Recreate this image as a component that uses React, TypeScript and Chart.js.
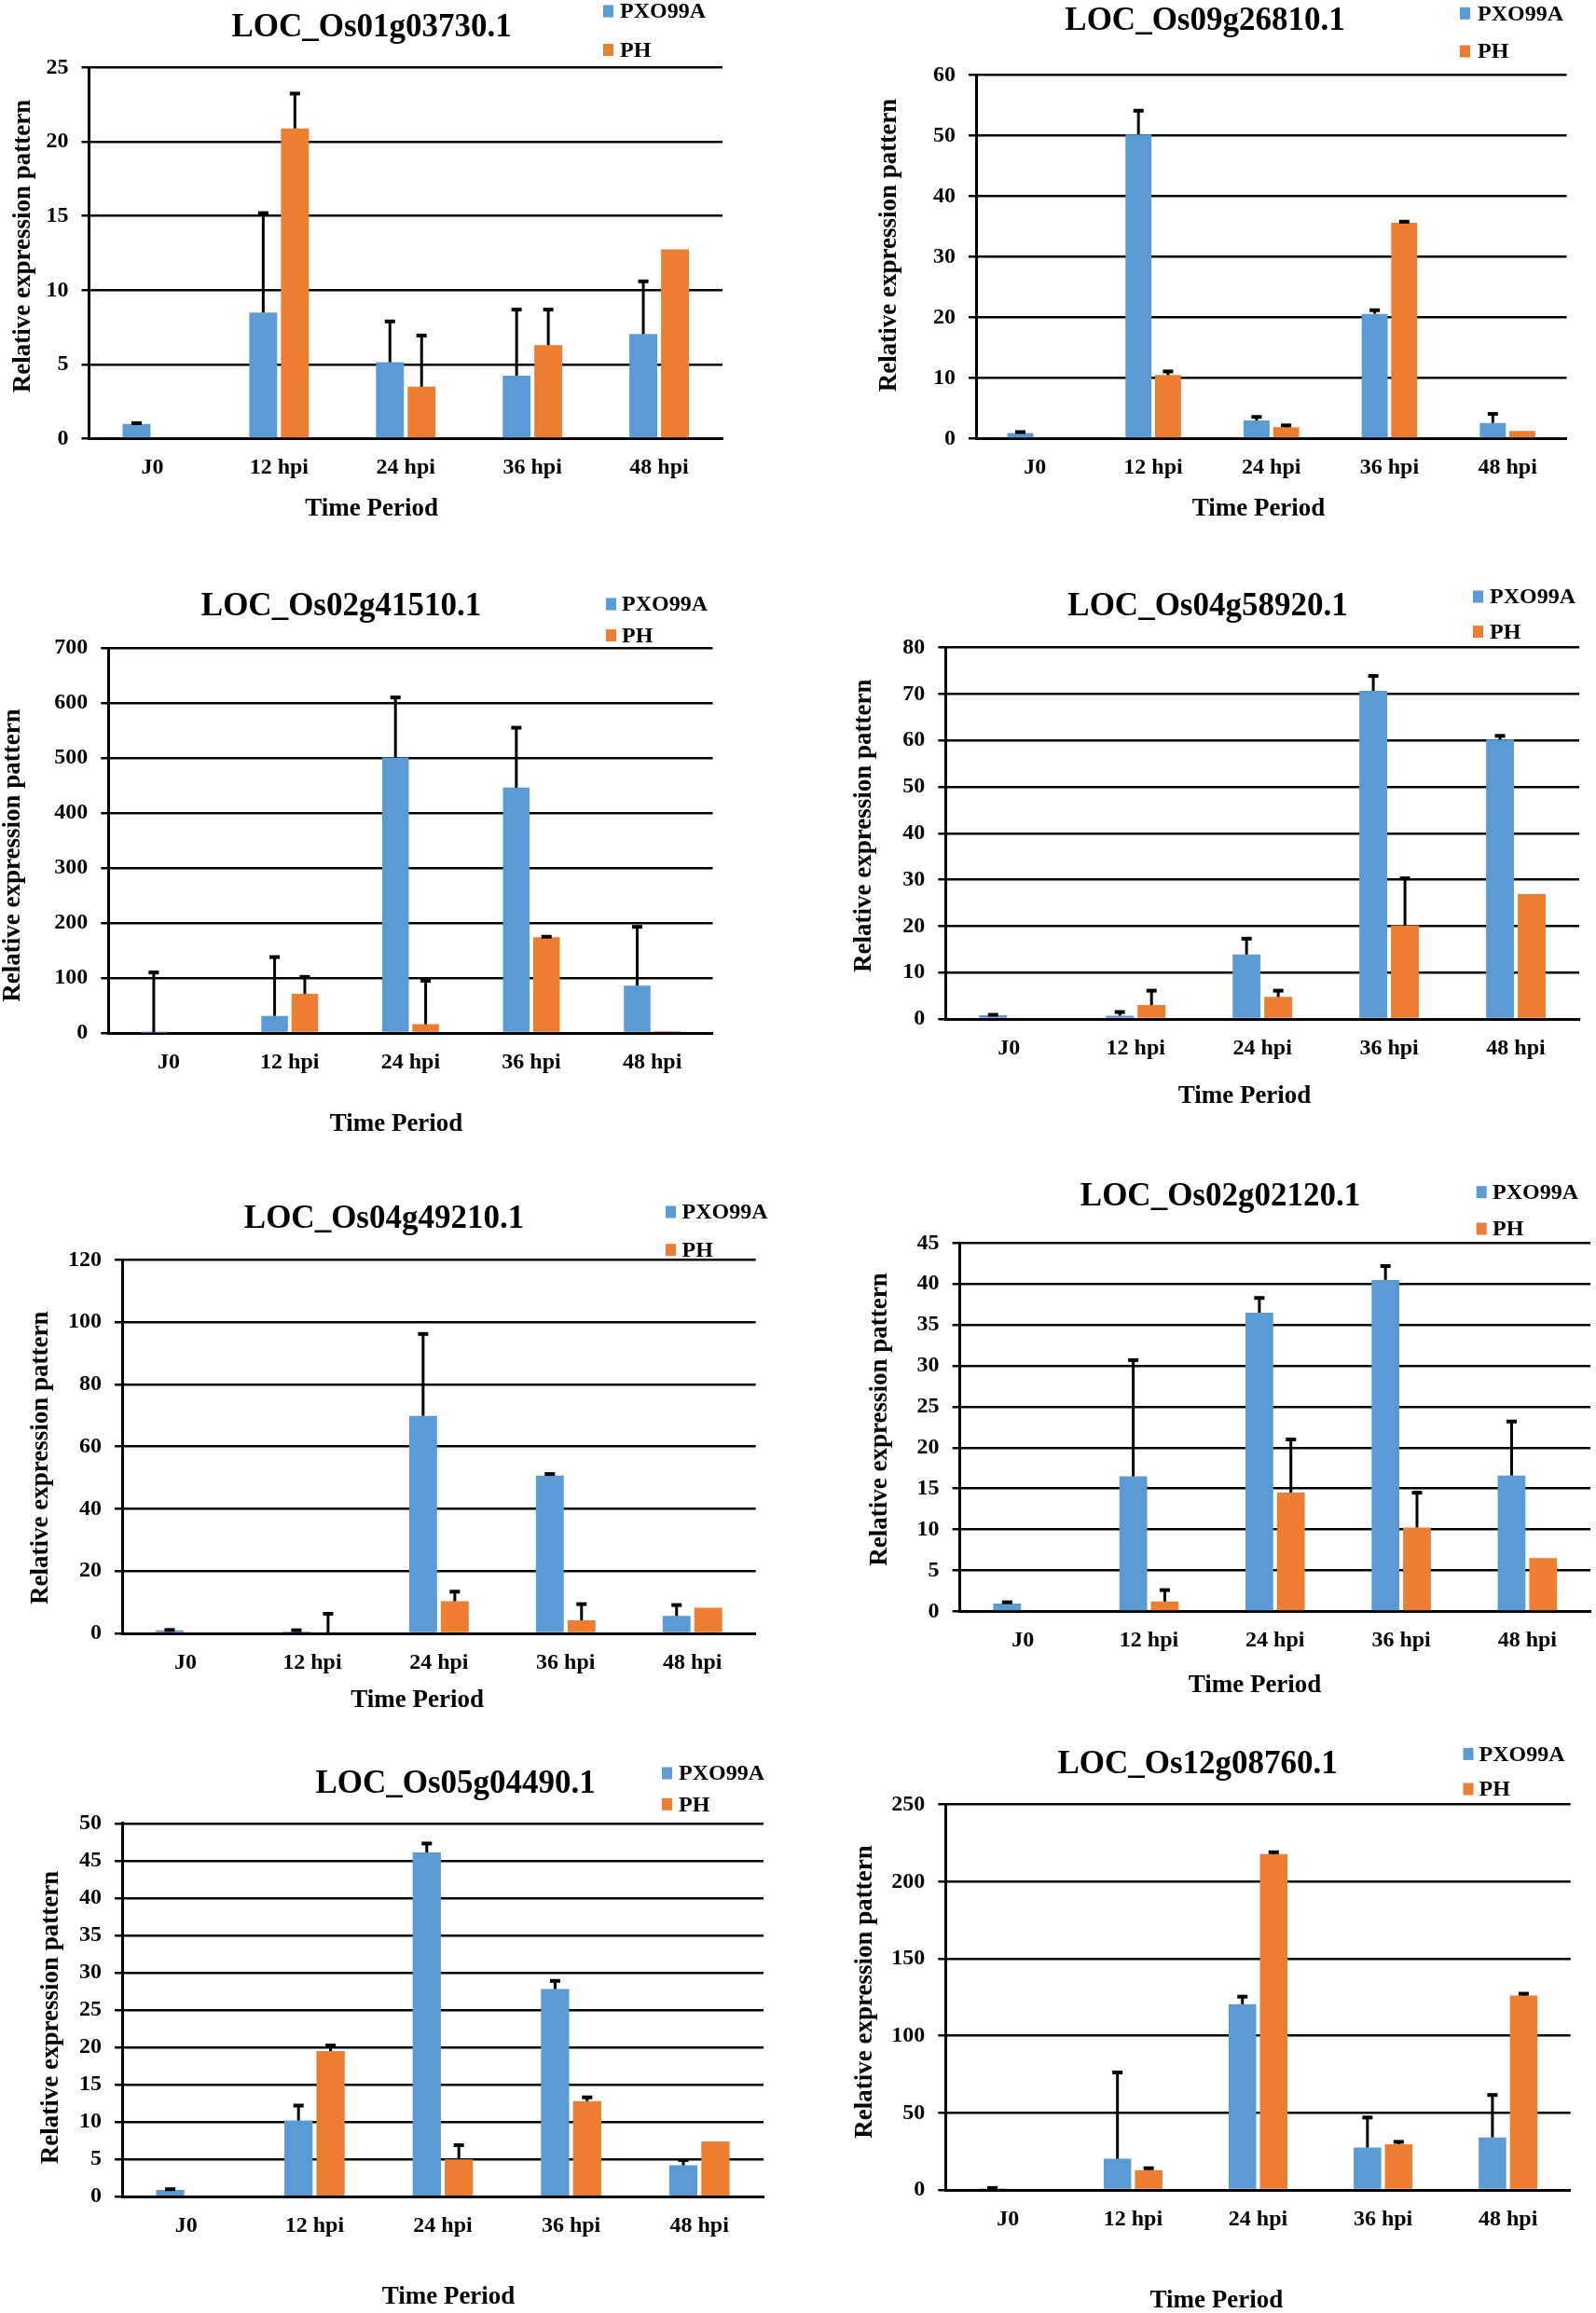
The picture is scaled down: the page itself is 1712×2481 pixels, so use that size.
import React, { useEffect, useRef } from "react";
import { Chart, registerables } from "chart.js";

Chart.register(...registerables);

// ---------------- DATA ----------------
const categories = ["J0", "12 hpi", "24 hpi", "36 hpi", "48 hpi"];
const seriesNames = ["PXO99A", "PH"];
const titles = [
  "LOC_Os01g03730.1",
  "LOC_Os09g26810.1",
  "LOC_Os02g41510.1",
  "LOC_Os04g58920.1",
  "LOC_Os04g49210.1",
  "LOC_Os02g02120.1",
  "LOC_Os05g04490.1",
  "LOC_Os12g08760.1",
];
const yAxisTitle = "Relative expression pattern";
const xAxisTitle = "Time Period";
const yMaxes = [25, 60, 700, 80, 120, 45, 50, 250];
const ySteps = [5, 10, 100, 10, 20, 5, 5, 50];

// panel 1 LOC_Os01g03730.1
const p1Pxo = [1.0, 8.5, 5.15, 4.25, 7.05];
const p1PxoErr = [0.05, 6.7, 2.75, 4.45, 3.55];
const p1Ph = [0, 20.9, 3.5, 6.3, 12.75];
const p1PhErr = [0, 2.35, 3.45, 2.4, 0];
// panel 2 LOC_Os09g26810.1
const p2Pxo = [0.95, 50.2, 3.0, 20.6, 2.6];
const p2PxoErr = [0.15, 3.9, 0.6, 0.6, 1.5];
const p2Ph = [0, 10.5, 1.9, 35.6, 1.3];
const p2PhErr = [0, 0.6, 0.3, 0.2, 0];
// panel 3 LOC_Os02g41510.1
const p3Pxo = [1, 31, 501, 446, 86];
const p3PxoErr = [109, 107, 109, 109, 107];
const p3Ph = [0, 71, 16, 174, 3.5];
const p3PhErr = [0, 31, 79, 1, 0];
// panel 4 LOC_Os04g58920.1
const p4Pxo = [0.8, 0.7, 13.9, 70.7, 60.2];
const p4PxoErr = [0.1, 0.8, 3.4, 3.2, 0.8];
const p4Ph = [0, 3.0, 4.75, 20.2, 26.9];
const p4PhErr = [0, 3.1, 1.35, 10.1, 0];
// panel 5 LOC_Os04g49210.1
const p5Pxo = [1.0, 0.6, 69.9, 50.7, 5.6];
const p5PxoErr = [0.1, 0.4, 26.3, 0.5, 3.5];
const p5Ph = [0, 0, 10.3, 4.2, 8.25];
const p5PhErr = [0, 6.3, 3.1, 5.2, 0];
// panel 6 LOC_Os02g02120.1
const p6Pxo = [0.96, 16.5, 36.5, 40.5, 16.6];
const p6PxoErr = [0.15, 14.2, 1.8, 1.7, 6.6];
const p6Ph = [0, 1.2, 14.5, 10.25, 6.5];
const p6PhErr = [0, 1.4, 6.5, 4.25, 0];
// panel 7 LOC_Os05g04490.1
const p7Pxo = [0.9, 10.2, 46.1, 27.8, 4.2];
const p7PxoErr = [0.1, 2.0, 1.2, 1.1, 0.7];
const p7Ph = [0, 19.5, 5.0, 12.8, 7.4];
const p7PhErr = [0, 0.75, 1.9, 0.5, 0];
// panel 8 LOC_Os12g08760.1
const p8Pxo = [1.0, 20.2, 120.5, 27.5, 34.1];
const p8PxoErr = [0.3, 56, 4.9, 19.5, 27.5];
const p8Ph = [0, 12.9, 217.9, 29.7, 126.1];
const p8PhErr = [0, 1.2, 1.2, 1.5, 1.2];

const pxoValues = [p1Pxo, p2Pxo, p3Pxo, p4Pxo, p5Pxo, p6Pxo, p7Pxo, p8Pxo];
const pxoErrors = [p1PxoErr, p2PxoErr, p3PxoErr, p4PxoErr, p5PxoErr, p6PxoErr, p7PxoErr, p8PxoErr];
const phValues = [p1Ph, p2Ph, p3Ph, p4Ph, p5Ph, p6Ph, p7Ph, p8Ph];
const phErrors = [p1PhErr, p2PhErr, p3PhErr, p4PhErr, p5PhErr, p6PhErr, p7PhErr, p8PhErr];

// ---------------- LAYOUT (page pixels) ----------------
// panel box: x, y, w, h
const panelBoxes = [
  [0, 0, 856, 600],
  [856, 0, 856, 600],
  [0, 600, 856, 650],
  [856, 600, 856, 650],
  [0, 1250, 856, 600],
  [856, 1250, 856, 600],
  [0, 1850, 856, 631],
  [856, 1850, 856, 631],
];
// plot area: left, right, top, bottom
const plotAreas = [
  [95.5, 775, 72.5, 470.6],
  [1047, 1680.5, 80.4, 470.6],
  [116.3, 764.5, 695, 1108],
  [1014.3, 1694, 694.7, 1093],
  [131, 810.7, 1351.4, 1752],
  [1029.6, 1706, 1333.4, 1728.4],
  [131, 819, 1955.8, 2356.2],
  [1014.3, 1684.7, 1935.7, 2349],
];
const titlePositions = [
  [398.6, 30], [1292.5, 23], [366, 651], [1295.5, 651],
  [412, 1307.5], [1309, 1284.4], [488.6, 1913.5], [1284.6, 1892.5],
];
// legend: square x, text x, row1 y, row2 y
const legendPositions = [
  [647, 665, 12, 53.5],
  [1566, 1585, 14.3, 55],
  [650, 667, 648, 681.6],
  [1580, 1598, 640, 677.6],
  [714, 731.6, 1300, 1340.7],
  [1583.7, 1601, 1278.7, 1318],
  [710, 728, 1902, 1935.3],
  [1569.5, 1586.5, 1881.4, 1919],
];
const yTitlePositions = [
  [24.6, 264], [954, 263], [13.6, 917.5], [927, 885.7],
  [43.7, 1563.8], [944.5, 1522.5], [54.6, 2163.9], [928, 2136.5],
];
const xTitlePositions = [
  [398.6, 546], [1350, 546], [425, 1206], [1335, 1176],
  [447.7, 1824], [1346, 1807.6], [481, 2463.6], [1304.8, 2467.7],
];

const FONT = "'Liberation Serif', 'Times New Roman', serif";
const BLUE = "#5B9BD5";
const ORANGE = "#ED7D31";

function makeOverlay(idx: number) {
  const [bx, by] = panelBoxes[idx];
  return {
    id: "overlay" + idx,
    afterDatasetsDraw(chart: any) {
      const ctx = chart.ctx;
      const ys = chart.scales.y;
      const sets = [
        [pxoValues[idx], pxoErrors[idx]],
        [phValues[idx], phErrors[idx]],
      ];
      sets.forEach(([vals, errs], di) => {
        const meta = chart.getDatasetMeta(di);
        meta.data.forEach((bar: any, i: number) => {
          const e = errs[i];
          if (!e) return;
          const x = bar.x;
          const y0 = ys.getPixelForValue(vals[i]);
          const y1 = ys.getPixelForValue(vals[i] + e);
          ctx.save();
          ctx.strokeStyle = "#000";
          ctx.lineWidth = 3;
          ctx.beginPath();
          ctx.moveTo(x, y0);
          ctx.lineTo(x, y1);
          ctx.stroke();
          ctx.lineWidth = 4;
          ctx.beginPath();
          ctx.moveTo(x - 5.5, y1);
          ctx.lineTo(x + 5.5, y1);
          ctx.stroke();
          ctx.restore();
        });
      });
    },
    afterDraw(chart: any) {
      const ctx = chart.ctx;
      ctx.save();
      ctx.fillStyle = "#000";
      // title
      ctx.font = `bold 35px ${FONT}`;
      ctx.textAlign = "center";
      ctx.textBaseline = "middle";
      const [tx, ty] = titlePositions[idx];
      ctx.fillText(titles[idx], tx - bx, ty - by);
      // x title
      ctx.font = `bold 27px ${FONT}`;
      const [xx, xy] = xTitlePositions[idx];
      ctx.fillText(xAxisTitle, xx - bx, xy - by);
      // y title
      const [yx, yy] = yTitlePositions[idx];
      ctx.save();
      ctx.translate(yx - bx, yy - by);
      ctx.rotate(-Math.PI / 2);
      ctx.fillText(yAxisTitle, 0, 0);
      ctx.restore();
      // legend
      const [sx, lx, r1, r2] = legendPositions[idx];
      const colors = [BLUE, ORANGE];
      [r1, r2].forEach((ry, k) => {
        ctx.fillStyle = colors[k];
        ctx.fillRect(sx - bx, ry - by - 6.5, 11, 13);
        ctx.fillStyle = "#000";
        ctx.font = `bold 24px ${FONT}`;
        ctx.textAlign = "left";
        ctx.fillText(seriesNames[k], lx - bx, ry - by + 1);
      });
      ctx.restore();
    },
  };
}

function Panel({ idx }: { idx: number }) {
  const ref = useRef<HTMLCanvasElement>(null);
  const [bx, by, bw, bh] = panelBoxes[idx];
  useEffect(() => {
    const [al, ar, at, ab] = plotAreas[idx];
    const Y_W = 60;
    const X_H = 50;
    const tickFont = { family: FONT, size: 24, weight: "bold" as const };
    const chart = new Chart(ref.current as HTMLCanvasElement, {
      type: "bar",
      data: {
        labels: categories,
        datasets: [
          {
            label: seriesNames[0],
            data: pxoValues[idx],
            backgroundColor: BLUE,
            categoryPercentage: 0.5,
            barPercentage: 0.88,
          },
          {
            label: seriesNames[1],
            data: phValues[idx],
            backgroundColor: ORANGE,
            categoryPercentage: 0.5,
            barPercentage: 0.88,
          },
        ],
      },
      options: {
        responsive: false,
        animation: false,
        devicePixelRatio: 1,
        layout: {
          padding: {
            left: al - bx - Y_W,
            right: bx + bw - ar,
            top: at - by,
            bottom: by + bh - ab - X_H,
          },
        },
        plugins: {
          legend: { display: false },
          title: { display: false },
          tooltip: { enabled: false },
        },
        scales: {
          x: {
            grid: { display: false, drawTicks: false },
            border: { display: true, color: "#000", width: 3 },
            ticks: { color: "#000", font: tickFont, padding: 17 },
            afterFit: (s: any) => {
              s.height = X_H;
            },
          },
          y: {
            min: 0,
            max: yMaxes[idx],
            ticks: { stepSize: ySteps[idx], color: "#000", font: tickFont, padding: 14 },
            grid: { color: "#000", lineWidth: 2.5, tickLength: 8, drawTicks: true },
            border: { display: true, color: "#000", width: 3 },
            afterFit: (s: any) => {
              s.width = Y_W;
            },
          },
        },
      } as any,
      plugins: [makeOverlay(idx)],
    });
    return () => chart.destroy();
  }, [idx]);
  return (
    <canvas
      ref={ref}
      width={bw}
      height={bh}
      style={{ position: "absolute", left: bx, top: by, width: bw, height: bh }}
    />
  );
}

export default function App() {
  return (
    <div
      style={{
        position: "absolute",
        left: 0,
        top: 0,
        width: 1712,
        height: 2481,
        background: "#fff",
        overflow: "hidden",
      }}
    >
      {titles.map((_, i) => (
        <Panel key={i} idx={i} />
      ))}
    </div>
  );
}
